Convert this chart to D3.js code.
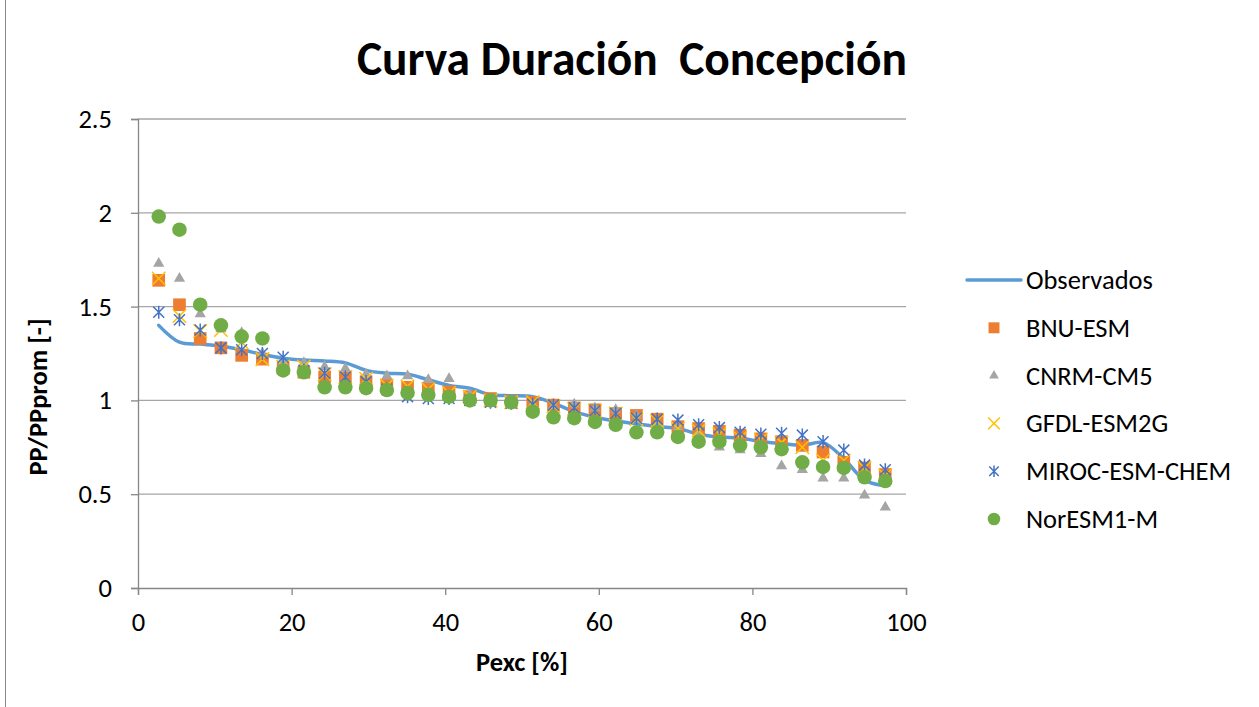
<!DOCTYPE html>
<html>
<head>
<meta charset="utf-8">
<script src="https://cdn.jsdelivr.net/npm/d3@7"></script>
<style>
  body { margin: 0; background: #fff; }
  text { font-family: Carlito, Calibri, "Open Sans", sans-serif; fill: #000; }
</style>
</head>
<body>
<div id="chart"></div>
<script>
// Pexc [%] values (36 points)
const pexc = d3.range(1, 37).map(i => +(i * 100 / 37).toFixed(1));

const observados = [1.40, 1.31, 1.30, 1.29, 1.27, 1.245, 1.225, 1.215, 1.21, 1.20, 1.16, 1.145,
  1.14, 1.11, 1.08, 1.065, 1.03, 1.025, 1.02, 0.985, 0.94, 0.91, 0.89, 0.875,
  0.86, 0.85, 0.82, 0.805, 0.80, 0.78, 0.77, 0.76, 0.775, 0.69, 0.575, 0.545];
const bnu = [1.64, 1.51, 1.33, 1.28, 1.24, 1.22, 1.17, 1.15, 1.125, 1.12, 1.10, 1.08,
  1.07, 1.065, 1.045, 1.02, 1.01, 0.995, 0.99, 0.975, 0.96, 0.95, 0.93, 0.92,
  0.90, 0.86, 0.85, 0.835, 0.815, 0.795, 0.78, 0.76, 0.725, 0.67, 0.64, 0.605];
const cnrm = [1.73, 1.65, 1.46, 1.38, 1.36, 1.25, 1.20, 1.20, 1.18, 1.17, 1.14, 1.13,
  1.13, 1.11, 1.115, 1.03, 1.00, 0.99, 0.98, 0.97, 0.98, 0.96, 0.95, 0.92,
  0.88, 0.86, 0.825, 0.75, 0.735, 0.715, 0.65, 0.63, 0.585, 0.585, 0.495, 0.43];
const gfdl = [1.65, 1.45, 1.37, 1.375, 1.31, 1.22, 1.18, 1.18, 1.14, 1.125, 1.115, 1.08,
  1.075, 1.06, 1.04, 1.02, 1.00, 0.99, 0.99, 0.97, 0.955, 0.945, 0.93, 0.90,
  0.89, 0.85, 0.84, 0.82, 0.80, 0.79, 0.775, 0.75, 0.68, 0.68, 0.64, 0.60];
const miroc = [1.47, 1.43, 1.375, 1.28, 1.27, 1.25, 1.23, 1.16, 1.145, 1.125, 1.10, 1.06,
  1.02, 1.01, 1.01, 1.00, 0.99, 0.985, 0.98, 0.975, 0.96, 0.945, 0.93, 0.905,
  0.90, 0.895, 0.87, 0.855, 0.83, 0.82, 0.825, 0.815, 0.78, 0.735, 0.655, 0.63];
const noresm = [1.98, 1.91, 1.51, 1.40, 1.34, 1.33, 1.16, 1.15, 1.07, 1.07, 1.065, 1.055,
  1.04, 1.03, 1.02, 1.00, 1.00, 0.99, 0.94, 0.91, 0.905, 0.885, 0.87, 0.83,
  0.83, 0.805, 0.78, 0.78, 0.76, 0.75, 0.74, 0.67, 0.645, 0.64, 0.59, 0.57];

const xTicks = [0, 20, 40, 60, 80, 100];
const yTicks = [0, 0.5, 1, 1.5, 2, 2.5];

const W = 1259, H = 707;
const margin = {top: 119, right: W - 906, bottom: H - 588, left: 138};
const width = W - margin.left - margin.right,
      height = H - margin.top - margin.bottom;

const svg = d3.select("#chart").append("svg")
    .attr("width", W)
    .attr("height", H);

// chart border
svg.append("rect")
    .attr("x", 5.5).attr("y", -2)
    .attr("width", W + 10).attr("height", H + 10)
    .attr("fill", "none").attr("stroke", "#898989");

const g = svg.append("g")
    .attr("transform", `translate(${margin.left},${margin.top})`);

const x = d3.scaleLinear().domain([0, 100]).range([0, width]);
const y = d3.scaleLinear().domain([0, 2.5]).range([height, 0]);

// gridlines
g.append("g")
    .selectAll("line")
    .data(yTicks.filter(d => d > 0))
    .enter().append("line")
    .attr("x1", 0).attr("x2", width)
    .attr("y1", d => y(d)).attr("y2", d => y(d))
    .attr("stroke", "#a6a6a6").attr("stroke-width", 1.3);

// axes
const xAxis = g.append("g")
    .attr("transform", `translate(0,${height})`)
    .call(d3.axisBottom(x).tickValues(xTicks).tickSize(7).tickPadding(17).tickFormat(d3.format("d")));
const yAxis = g.append("g")
    .call(d3.axisLeft(y).tickValues(yTicks).tickSize(7).tickPadding(19).tickFormat(d => d));
[xAxis, yAxis].forEach(a => {
    a.select(".domain").attr("stroke", "#868686").attr("stroke-width", 1.3);
    a.selectAll(".tick line").attr("stroke", "#868686").attr("stroke-width", 1.3);
    a.selectAll("text").style("font-size", "26.5px").attr("fill", "#000");
});

// observed line
const line = d3.line()
    .x((d, i) => x(pexc[i]))
    .y(d => y(d))
    .curve(d3.curveCatmullRom);
g.append("path")
    .datum(observados)
    .attr("fill", "none")
    .attr("stroke", "#5b9bd5")
    .attr("stroke-width", 3.5)
    .attr("stroke-linecap", "round")
    .attr("d", line);

// asterisk symbol
const symbolAsterisk = {
    draw(ctx, size) {
        const r = Math.sqrt(size) / 2;
        ctx.moveTo(-r, -r); ctx.lineTo(r, r);
        ctx.moveTo(-r, r); ctx.lineTo(r, -r);
        ctx.moveTo(0, -r * 1.2); ctx.lineTo(0, r * 1.2);
    }
};

const series = [
    {name: "BNU-ESM", values: bnu, type: d3.symbolSquare, size: 160, fill: "#ed7d31", stroke: null},
    {name: "CNRM-CM5", values: cnrm, type: d3.symbolTriangle, size: 55, fill: "#a5a5a5", stroke: null},
    {name: "GFDL-ESM2G", values: gfdl, type: d3.symbolX, size: 120, fill: "none", stroke: "#ffc000"},
    {name: "MIROC-ESM-CHEM", values: miroc, type: symbolAsterisk, size: 120, fill: "none", stroke: "#4472c4"},
    {name: "NorESM1-M", values: noresm, type: d3.symbolCircle, size: 165, fill: "#70ad47", stroke: null}
];

series.forEach(s => {
    g.append("g").selectAll("path")
        .data(s.values)
        .enter().append("path")
        .attr("transform", (d, i) => `translate(${x(pexc[i])},${y(d)})`)
        .attr("d", d3.symbol().type(s.type).size(s.size))
        .attr("fill", s.fill)
        .attr("stroke", s.stroke || "none")
        .attr("stroke-width", 1.5);
});

// title
const title = svg.append("text")
    .attr("x", 632).attr("y", 75)
    .attr("text-anchor", "middle")
    .style("font-size", "40px").style("font-weight", "bold")
    .attr("xml:space", "preserve")
    .text("Curva Duración  Concepción");
const tw = title.node().getComputedTextLength();
title.style("font-size", (40 * 550 / tw) + "px");

// axis titles
svg.append("text")
    .attr("x", 522).attr("y", 671)
    .attr("text-anchor", "middle")
    .style("font-size", "26.5px").style("font-weight", "bold")
    .text("Pexc [%]");
svg.append("text")
    .attr("transform", "translate(47,397) rotate(-90)")
    .attr("text-anchor", "middle")
    .style("font-size", "26.5px").style("font-weight", "bold")
    .text("PP/PPprom [-]");

// legend
const legend = svg.append("g").attr("transform", "translate(967,280)");
legend.append("line")
    .attr("x1", 0).attr("x2", 54).attr("y1", 0).attr("y2", 0)
    .attr("stroke", "#5b9bd5").attr("stroke-width", 3.5).attr("stroke-linecap", "round");
legend.append("text")
    .attr("x", 59).attr("y", 9)
    .style("font-size", "26.5px")
    .text("Observados");
series.forEach((s, i) => {
    const ly = 47.8 * (i + 1);
    legend.append("path")
        .attr("transform", `translate(27,${ly})`)
        .attr("d", d3.symbol().type(s.type).size(s.size * 0.75))
        .attr("fill", s.fill)
        .attr("stroke", s.stroke || "none")
        .attr("stroke-width", 1.5);
    legend.append("text")
        .attr("x", 59).attr("y", ly + 9)
        .style("font-size", "26.5px")
        .text(s.name);
});
</script>
</body>
</html>
